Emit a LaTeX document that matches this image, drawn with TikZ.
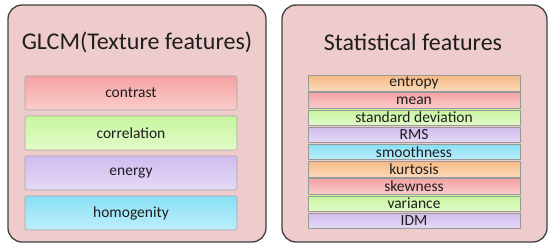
\documentclass[tikz,border=0pt]{standalone}
\usepackage{fontspec}
\setmainfont{Carlito}
\usetikzlibrary{positioning}

\definecolor{panelpink}{RGB}{238,204,204}
\definecolor{fred}{RGB}{246,162,162}
\definecolor{fgreen}{RGB}{200,246,158}
\definecolor{fviolet}{RGB}{208,188,238}
\definecolor{fcyan}{RGB}{136,224,246}
\definecolor{forange}{RGB}{247,186,132}
\definecolor{ink}{RGB}{30,30,30}

\begin{document}
\begin{tikzpicture}[
  x=1pt, y=-1pt,
  font=\fontsize{15.5}{17}\selectfont, text=ink,
  panel/.style={draw=black!75, line width=1.3pt, rounded corners=14pt, fill=panelpink},
  title/.style={font=\fontsize{24}{28}\selectfont},
  featbig/.style={draw=black!35, line width=.6pt, rounded corners=2pt, inner sep=0pt,
    minimum width=212pt, minimum height=34pt, top color=#1, bottom color=#1!55!white},
  featrow/.style={draw=black!40, line width=.6pt, inner sep=0pt,
    minimum width=212pt, minimum height=15.5pt, top color=#1, bottom color=#1!55!white}
]
\useasboundingbox (0,0) rectangle (550,248);

\begin{scope}
  \node[panel, minimum width=258pt, minimum height=237pt] (glcm) at (137,123.5) {};
  \node[title] (glcmtitle) at (137,42) {GLCM(Texture features)};
  \foreach \name/\col [count=\i] in {contrast/fred,correlation/fgreen,energy/fviolet,homogenity/fcyan}
    \node[featbig=\col] (\name) at (131,{53+40*\i}) {\name};
\end{scope}

\begin{scope}
  \node[panel, minimum width=265pt, minimum height=237pt] (stat) at (414.5,123.5) {};
  \node[title] (stattitle) at (413,42) {Statistical features};
  \foreach \name/\txt/\col [count=\i] in {entropy/entropy/forange,mean/mean/fred,
      std/standard deviation/fgreen,rms/RMS/fviolet,smooth/smoothness/fcyan,
      kurt/kurtosis/forange,skew/skewness/fred,var/variance/fgreen,idm/IDM/fviolet}
    \node[featrow=\col] (\name) at (414,{66.05+17.2*\i}) {\txt};
\end{scope}

\end{tikzpicture}
\end{document}
